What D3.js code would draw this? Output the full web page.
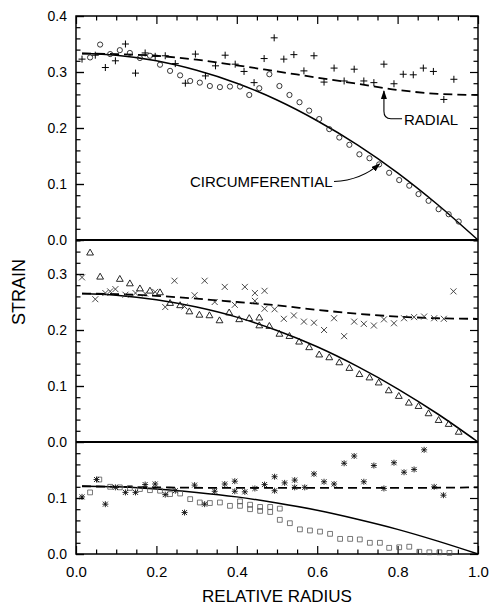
<!DOCTYPE html>
<html>
<head>
<meta charset="utf-8">
<script src="https://cdn.jsdelivr.net/npm/d3@7"></script>
<style>
body { margin: 0; background: #fff; }
text { font-family: "Liberation Sans", Arial, sans-serif; fill: #000; }
</style>
</head>
<body>
<div id="chart"></div>
<script>
var w = 490;
var h = 607;

// theory curves
var topCircLine = [[0.015, 0.333], [0.1, 0.330], [0.2, 0.320], [0.3, 0.303], [0.4, 0.280], [0.5, 0.250], [0.6, 0.213], [0.7, 0.170], [0.8, 0.120], [0.9, 0.063], [1, 0]];
var topRadLine = [[0.015, 0.333], [0.1, 0.332], [0.2, 0.329], [0.3, 0.322], [0.4, 0.312], [0.5, 0.301], [0.6, 0.290], [0.7, 0.279], [0.8, 0.268], [0.9, 0.261], [1, 0.259]];
var midCircLine = [[0.015, 0.265], [0.1, 0.262], [0.2, 0.254], [0.3, 0.241], [0.4, 0.223], [0.5, 0.199], [0.6, 0.170], [0.7, 0.135], [0.8, 0.095], [0.9, 0.050], [1, 0]];
var midRadLine = [[0.015, 0.265], [0.1, 0.264], [0.2, 0.261], [0.3, 0.256], [0.4, 0.250], [0.5, 0.244], [0.6, 0.236], [0.7, 0.229], [0.8, 0.224], [0.9, 0.221], [1, 0.220]];
var botCircLine = [[0.015, 0.121], [0.1, 0.120], [0.2, 0.116], [0.3, 0.110], [0.4, 0.102], [0.5, 0.091], [0.6, 0.078], [0.7, 0.062], [0.8, 0.044], [0.9, 0.023], [1, 0]];
var botRadLine = [[0.015, 0.121], [0.2, 0.119], [0.4, 0.118], [0.6, 0.118], [0.8, 0.118], [1, 0.119]];

// measured points
var topCircles = [[0.035, 0.326], [0.060, 0.349], [0.085, 0.332], [0.109, 0.339], [0.134, 0.334], [0.159, 0.325], [0.184, 0.329], [0.209, 0.313], [0.234, 0.302], [0.259, 0.294], [0.284, 0.284], [0.308, 0.281], [0.333, 0.275], [0.358, 0.273], [0.383, 0.274], [0.408, 0.274], [0.431, 0.259], [0.456, 0.271], [0.481, 0.296], [0.506, 0.275], [0.531, 0.259], [0.556, 0.246], [0.580, 0.231], [0.605, 0.216], [0.630, 0.198], [0.655, 0.183], [0.680, 0.170], [0.705, 0.153], [0.730, 0.146], [0.754, 0.135], [0.779, 0.120], [0.804, 0.107], [0.829, 0.097], [0.852, 0.082], [0.877, 0.070], [0.902, 0.055], [0.927, 0.046], [0.952, 0.033]];
var topPluses = [[0.015, 0.323], [0.048, 0.330], [0.073, 0.308], [0.098, 0.320], [0.123, 0.350], [0.148, 0.298], [0.172, 0.334], [0.197, 0.328], [0.222, 0.329], [0.247, 0.315], [0.272, 0.280], [0.297, 0.332], [0.322, 0.293], [0.347, 0.311], [0.371, 0.330], [0.396, 0.314], [0.418, 0.301], [0.443, 0.281], [0.468, 0.324], [0.493, 0.361], [0.517, 0.323], [0.542, 0.331], [0.567, 0.302], [0.592, 0.329], [0.617, 0.282], [0.642, 0.307], [0.667, 0.284], [0.692, 0.305], [0.716, 0.284], [0.741, 0.281], [0.766, 0.314], [0.791, 0.279], [0.814, 0.296], [0.839, 0.295], [0.864, 0.307], [0.889, 0.301], [0.915, 0.251], [0.940, 0.287]];
var midTriangles = [[0.035, 0.338], [0.060, 0.295], [0.109, 0.291], [0.134, 0.283], [0.159, 0.274], [0.184, 0.270], [0.209, 0.267], [0.234, 0.248], [0.259, 0.244], [0.282, 0.233], [0.307, 0.227], [0.332, 0.226], [0.357, 0.217], [0.381, 0.231], [0.406, 0.219], [0.431, 0.221], [0.456, 0.222], [0.456, 0.208], [0.481, 0.207], [0.506, 0.193], [0.531, 0.189], [0.555, 0.179], [0.580, 0.169], [0.605, 0.156], [0.630, 0.151], [0.655, 0.142], [0.680, 0.132], [0.705, 0.121], [0.730, 0.115], [0.753, 0.106], [0.778, 0.092], [0.803, 0.082], [0.828, 0.070], [0.852, 0.064], [0.877, 0.051], [0.902, 0.039], [0.927, 0.032], [0.952, 0.018]];
var midCrosses = [[0.015, 0.294], [0.048, 0.255], [0.073, 0.266], [0.085, 0.269], [0.098, 0.273], [0.123, 0.263], [0.148, 0.266], [0.172, 0.265], [0.197, 0.268], [0.222, 0.241], [0.245, 0.288], [0.270, 0.242], [0.295, 0.262], [0.320, 0.288], [0.345, 0.250], [0.370, 0.277], [0.395, 0.245], [0.420, 0.277], [0.445, 0.266], [0.445, 0.252], [0.469, 0.270], [0.469, 0.238], [0.494, 0.237], [0.517, 0.220], [0.542, 0.226], [0.567, 0.215], [0.592, 0.213], [0.617, 0.200], [0.642, 0.221], [0.667, 0.189], [0.692, 0.215], [0.716, 0.211], [0.741, 0.208], [0.766, 0.219], [0.791, 0.212], [0.816, 0.221], [0.841, 0.223], [0.866, 0.224], [0.891, 0.221], [0.915, 0.220], [0.939, 0.269]];
var botStars = [[0.015, 0.102], [0.051, 0.133], [0.073, 0.089], [0.098, 0.119], [0.123, 0.110], [0.148, 0.110], [0.172, 0.124], [0.197, 0.125], [0.222, 0.106], [0.247, 0.113], [0.270, 0.074], [0.295, 0.123], [0.320, 0.089], [0.345, 0.112], [0.370, 0.125], [0.395, 0.130], [0.395, 0.112], [0.420, 0.111], [0.445, 0.117], [0.469, 0.124], [0.494, 0.138], [0.494, 0.113], [0.519, 0.127], [0.544, 0.132], [0.544, 0.119], [0.569, 0.119], [0.592, 0.143], [0.617, 0.129], [0.642, 0.125], [0.667, 0.162], [0.692, 0.175], [0.716, 0.129], [0.741, 0.158], [0.766, 0.117], [0.791, 0.163], [0.816, 0.146], [0.841, 0.151], [0.866, 0.186], [0.891, 0.120], [0.914, 0.105]];
var botSquares = [[0.035, 0.110], [0.058, 0.133], [0.085, 0.120], [0.109, 0.119], [0.134, 0.118], [0.159, 0.116], [0.184, 0.114], [0.209, 0.113], [0.234, 0.107], [0.259, 0.108], [0.284, 0.098], [0.308, 0.092], [0.333, 0.091], [0.358, 0.092], [0.383, 0.086], [0.408, 0.094], [0.408, 0.086], [0.433, 0.088], [0.433, 0.080], [0.458, 0.084], [0.458, 0.077], [0.483, 0.084], [0.483, 0.075], [0.507, 0.081], [0.507, 0.061], [0.532, 0.055], [0.557, 0.044], [0.582, 0.042], [0.607, 0.040], [0.632, 0.036], [0.657, 0.027], [0.682, 0.027], [0.706, 0.026], [0.731, 0.020], [0.756, 0.020], [0.779, 0.011], [0.804, 0.012], [0.829, 0.013], [0.854, 0.004], [0.879, 0.003], [0.904, 0.003], [0.929, 0.002]];

// tick labels
var xTicks = [0, 0.2, 0.4, 0.6, 0.8, 1.0];
var topTicks = [0, 0.1, 0.2, 0.3, 0.4];
var midTicks = [0, 0.1, 0.2, 0.3];
var botTicks = [0, 0.1];

var svg = d3.select("#chart")
    .append("svg")
    .attr("width", w)
    .attr("height", h);

var x = d3.scaleLinear().domain([0, 1]).range([76, 478]);
var yTop = d3.scaleLinear().domain([0, 0.4]).range([240, 16]);
var yMid = d3.scaleLinear().domain([0, 0.36]).range([442, 240.4]);
var yBot = d3.scaleLinear().domain([0, 0.2]).range([554, 442]);

var fmt = d3.format(".1f");

function minorVals(max, step, majors) {
    var out = [];
    for (var i = 1; i * step < max + 1e-9; i++) {
        var v = Math.round(i * step * 1000) / 1000;
        if (majors.indexOf(v) < 0) out.push(v);
    }
    return out;
}

function styleAxis(g, size) {
    g.select(".domain").remove();
    g.selectAll("line").attr("stroke", "#000").attr("stroke-width", 1.2);
    g.selectAll("text").style("font-size", size + "px").attr("fill", "#000");
}

//y axes, one set per panel
function yAxes(scale, labels, max) {
    var majors = d3.range(0, max + 1e-9, 0.1).map(function (d) { return Math.round(d * 10) / 10; });
    svg.append("g")
        .attr("transform", "translate(" + x(0) + ",0)")
        .call(d3.axisLeft(scale).tickValues(labels).tickSize(-8).tickPadding(9).tickFormat(fmt))
        .call(styleAxis, 14);
    svg.append("g")
        .attr("transform", "translate(" + x(0) + ",0)")
        .call(d3.axisLeft(scale).tickValues(majors).tickSize(-8).tickFormat(""))
        .call(styleAxis, 14);
    svg.append("g")
        .attr("transform", "translate(" + x(0) + ",0)")
        .call(d3.axisLeft(scale).tickValues(minorVals(max, 0.02, majors)).tickSize(-4.5).tickFormat(""))
        .call(styleAxis, 14);
    svg.append("g")
        .attr("transform", "translate(" + x(1) + ",0)")
        .call(d3.axisRight(scale).tickValues(majors).tickSize(-8).tickFormat(""))
        .call(styleAxis, 14);
    svg.append("g")
        .attr("transform", "translate(" + x(1) + ",0)")
        .call(d3.axisRight(scale).tickValues(minorVals(max, 0.02, majors)).tickSize(-4.5).tickFormat(""))
        .call(styleAxis, 14);
}

yAxes(yTop, topTicks, 0.4);
yAxes(yMid, midTicks, 0.36);
yAxes(yBot, botTicks, 0.19);

//x axes
var xMinor = minorVals(0.99, 0.05, xTicks);
svg.append("g")
    .attr("transform", "translate(0," + yBot(0) + ")")
    .call(d3.axisBottom(x).tickValues(xTicks).tickSize(-8).tickPadding(12).tickFormat(fmt))
    .call(styleAxis, 15);
svg.append("g")
    .attr("transform", "translate(0," + yBot(0) + ")")
    .call(d3.axisBottom(x).tickValues(xMinor).tickSize(-4.5).tickFormat(""))
    .call(styleAxis, 15);
svg.append("g")
    .attr("transform", "translate(0," + yTop(0.4) + ")")
    .call(d3.axisTop(x).tickValues(xTicks).tickSize(-8).tickFormat(""))
    .call(styleAxis, 15);
svg.append("g")
    .attr("transform", "translate(0," + yTop(0.4) + ")")
    .call(d3.axisTop(x).tickValues(xMinor).tickSize(-4.5).tickFormat(""))
    .call(styleAxis, 15);

//frame and panel dividers
svg.append("rect")
    .attr("x", x(0))
    .attr("y", yTop(0.4))
    .attr("width", x(1) - x(0))
    .attr("height", yBot(0) - yTop(0.4))
    .attr("fill", "none")
    .attr("stroke", "#000")
    .attr("stroke-width", 1.5);

[yTop(0), yMid(0)].forEach(function (yy) {
    svg.append("line")
        .attr("x1", x(0)).attr("x2", x(1))
        .attr("y1", yy).attr("y2", yy)
        .attr("stroke", "#000")
        .attr("stroke-width", 1.8);
});

//theory lines
function drawLine(data, scale, dashed) {
    var line = d3.line()
        .x(function (d) { return x(d[0]); })
        .y(function (d) { return scale(d[1]); })
        .curve(d3.curveMonotoneX);
    svg.append("path")
        .datum(data)
        .attr("d", line)
        .attr("fill", "none")
        .attr("stroke", "#000")
        .attr("stroke-width", dashed ? 1.8 : 1.5)
        .attr("stroke-dasharray", dashed ? "9,5" : null);
}

drawLine(topCircLine, yTop, false);
drawLine(topRadLine, yTop, true);
drawLine(midCircLine, yMid, false);
drawLine(midRadLine, yMid, true);
drawLine(botCircLine, yBot, false);
drawLine(botRadLine, yBot, true);

//point markers
var plusPath = "M-3.5,0H3.5M0,-3.5V3.5";
var timesPath = "M-3,-3L3,3M-3,3L3,-3";
var triPath = "M0,-3.6L3.4,2.3H-3.4Z";
var squarePath = "M-2.4,-2.4H2.4V2.4H-2.4Z";
var starPath = "M-2.5,-2.5L2.5,2.5M-2.5,2.5L2.5,-2.5M-3,0H3M0,-3V3";

function drawPoints(data, scale, shape, color, sw) {
    svg.append("g")
        .selectAll("path")
        .data(data)
        .enter()
        .append("path")
        .attr("transform", function (d) {
            return "translate(" + x(d[0]) + "," + scale(d[1]) + ")";
        })
        .attr("d", shape)
        .attr("fill", "none")
        .attr("stroke", color)
        .attr("stroke-width", sw);
}

svg.append("g")
    .selectAll("circle")
    .data(topCircles)
    .enter()
    .append("circle")
    .attr("cx", function (d) { return x(d[0]); })
    .attr("cy", function (d) { return yTop(d[1]); })
    .attr("r", 2.6)
    .attr("fill", "none")
    .attr("stroke", "#222")
    .attr("stroke-width", 0.9);

drawPoints(topPluses, yTop, plusPath, "#000", 1);
drawPoints(midTriangles, yMid, triPath, "#111", 0.9);
drawPoints(midCrosses, yMid, timesPath, "#333", 0.9);
drawPoints(botSquares, yBot, squarePath, "#555", 0.8);
drawPoints(botStars, yBot, starPath, "#111", 0.9);

//annotations
var defs = svg.append("defs");
defs.append("marker")
    .attr("id", "head")
    .attr("markerUnits", "userSpaceOnUse")
    .attr("markerWidth", 9)
    .attr("markerHeight", 6)
    .attr("refX", 8)
    .attr("refY", 3)
    .attr("orient", "auto")
    .append("path")
    .attr("d", "M0,0L9,3L0,6Z")
    .attr("fill", "#000");

var radTip = [x(0.766), yTop(0.266)];
var radText = [x(0.816), yTop(0.205)];
svg.append("path")
    .attr("d", "M" + (radText[0] - 2) + "," + (radText[1] - 6.5) +
        "H" + (radTip[0] + 7) +
        "Q" + radTip[0] + "," + (radText[1] - 6.5) + " " + radTip[0] + "," + (radText[1] - 14) +
        "V" + radTip[1])
    .attr("fill", "none")
    .attr("stroke", "#000")
    .attr("stroke-width", 1.1)
    .attr("marker-end", "url(#head)");
svg.append("text")
    .attr("x", radText[0])
    .attr("y", radText[1])
    .style("font-size", "15px")
    .text("RADIAL");

var circTip = [x(0.755), yTop(0.136)];
var circText = [x(0.2836), yTop(0.0946)];
svg.append("path")
    .attr("d", "M" + (circText[0] + 144) + "," + (circText[1] - 5.5) +
        "Q" + (circTip[0] - 18) + "," + (circText[1] - 7) + " " + circTip[0] + "," + circTip[1])
    .attr("fill", "none")
    .attr("stroke", "#000")
    .attr("stroke-width", 1.1)
    .attr("marker-end", "url(#head)");
svg.append("text")
    .attr("x", circText[0])
    .attr("y", circText[1])
    .style("font-size", "15px")
    .text("CIRCUMFERENTIAL");

//axis titles
svg.append("text")
    .attr("transform", "translate(25,292) rotate(-90)")
    .attr("text-anchor", "middle")
    .style("font-size", "18px")
    .text("STRAIN");

svg.append("text")
    .attr("x", 277)
    .attr("y", 602)
    .attr("text-anchor", "middle")
    .style("font-size", "17px")
    .text("RELATIVE RADIUS");
</script>
</body>
</html>
